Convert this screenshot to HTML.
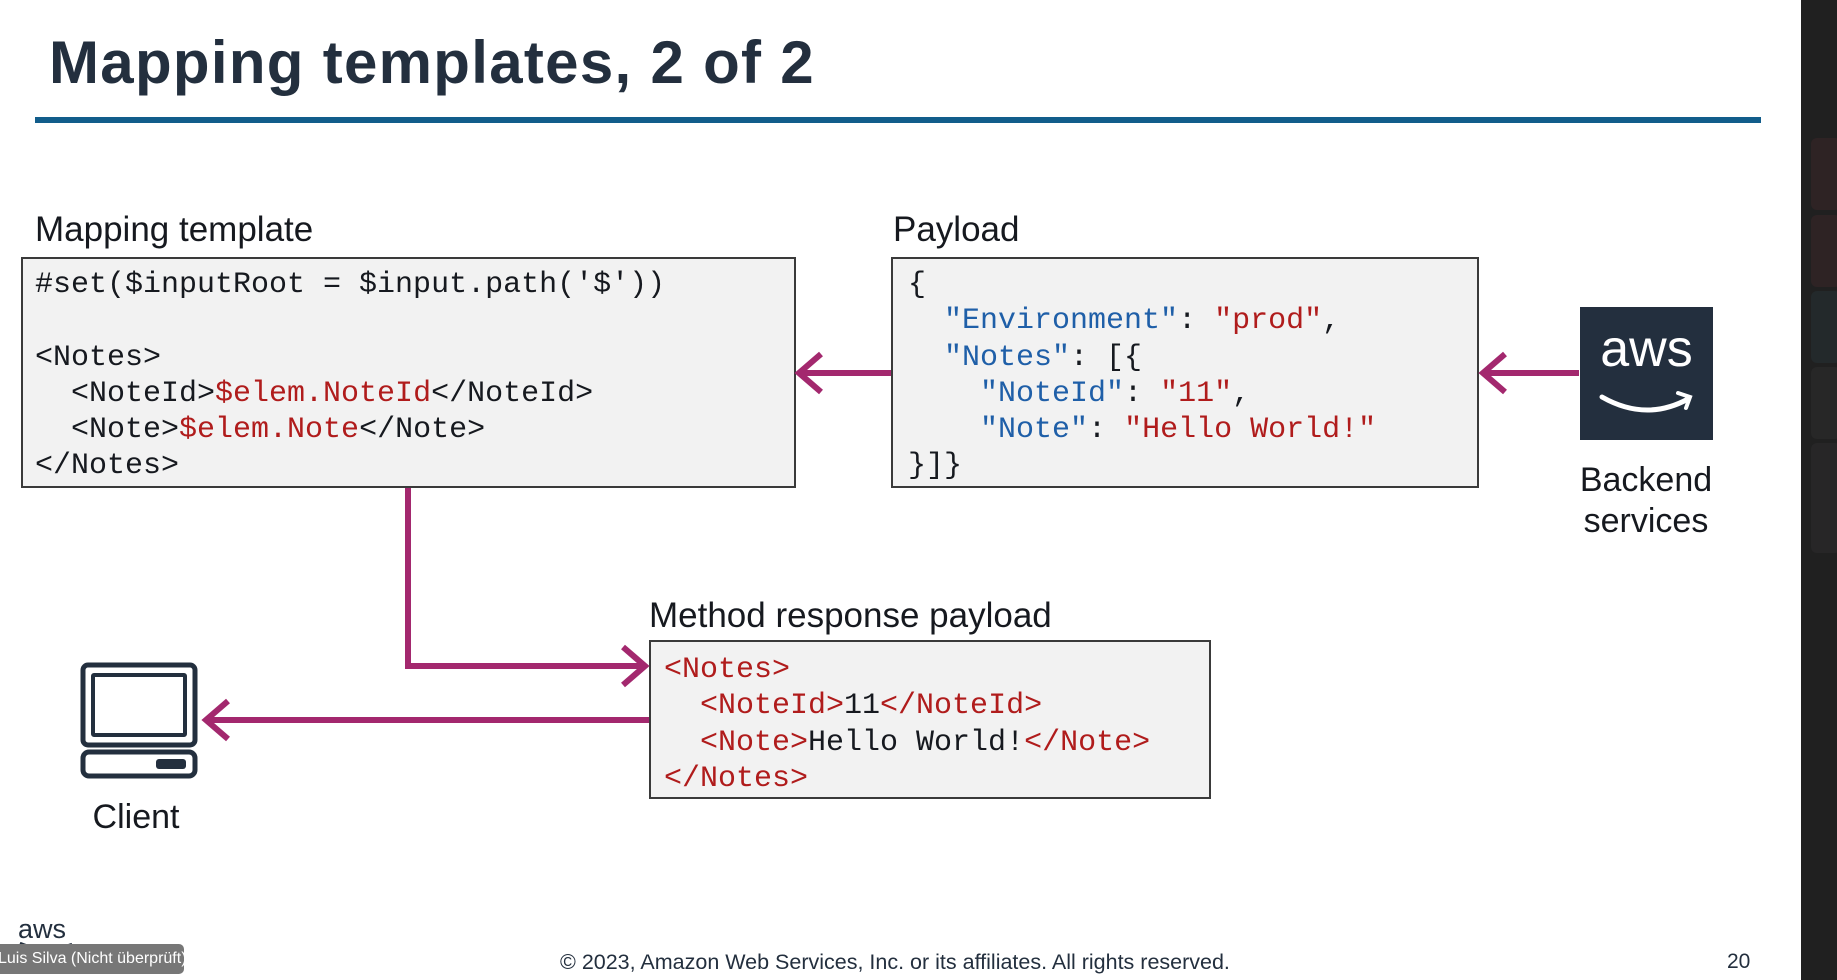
<!DOCTYPE html>
<html><head><meta charset="utf-8"><style>
body{margin:0;width:1837px;height:980px;background:#fff;position:relative;overflow:hidden;font-family:"Liberation Sans",sans-serif;color:#16191f}
.a{position:absolute}
.lbl{font-size:35px;white-space:nowrap;line-height:1}
.box{position:absolute;background:#f2f2f2;border:2px solid #3a3a3a;box-sizing:border-box}
.code{position:absolute;font-family:"Liberation Mono",monospace;font-size:30px;line-height:36.3px;white-space:pre;color:#16191f}
.b{color:#1f5fa8}.r{color:#b01c1c}
</style></head><body>
<div class="a" style="left:49px;top:28px;font-size:60px;font-weight:bold;color:#232f3e;white-space:nowrap;letter-spacing:1.3px">Mapping templates, 2 of 2</div>
<div class="a" style="left:35px;top:117px;width:1726px;height:6px;background:#125d8b"></div>

<div class="a lbl" style="left:35px;top:212px">Mapping template</div>
<div class="box" style="left:21px;top:257px;width:775px;height:231px"></div>
<div class="code" style="left:35px;top:267px">#set($inputRoot = $input.path('$'))

&lt;Notes&gt;
  &lt;NoteId&gt;<span class="r">$elem.NoteId</span>&lt;/NoteId&gt;
  &lt;Note&gt;<span class="r">$elem.Note</span>&lt;/Note&gt;
&lt;/Notes&gt;</div>

<div class="a lbl" style="left:893px;top:212px">Payload</div>
<div class="box" style="left:891px;top:257px;width:588px;height:231px"></div>
<div class="code" style="left:908px;top:267px">{
  <span class="b">"Environment"</span>: <span class="r">"prod"</span>,
  <span class="b">"Notes"</span>: [{
    <span class="b">"NoteId"</span>: <span class="r">"11"</span>,
    <span class="b">"Note"</span>: <span class="r">"Hello World!"</span>
}]}</div>

<div class="a" style="left:1580px;top:307px;width:133px;height:133px;background:#232f3e"></div>
<div class="a" style="left:1580px;top:323px;width:133px;text-align:center;color:#fff;font-size:52px;line-height:1">aws</div>
<svg class="a" style="left:1580px;top:307px" width="133" height="133"><path d="M22 90 Q66 115 108 92" stroke="#fff" stroke-width="5" fill="none" stroke-linecap="round"/><path d="M98 86 L110 90 L106 101" stroke="#fff" stroke-width="4" fill="none" stroke-linecap="round"/></svg>
<div class="a" style="left:1550px;top:460px;width:192px;text-align:center;font-size:34px;line-height:41px">Backend<br>services</div>

<div class="a lbl" style="left:649px;top:598px">Method response payload</div>
<div class="box" style="left:649px;top:640px;width:562px;height:159px"></div>
<div class="code r" style="left:664px;top:652px">&lt;Notes&gt;
  &lt;NoteId&gt;<span style="color:#16191f">11</span>&lt;/NoteId&gt;
  &lt;Note&gt;<span style="color:#16191f">Hello World!</span>&lt;/Note&gt;
&lt;/Notes&gt;</div>

<svg class="a" style="left:0;top:0" width="1837" height="980">
<g stroke="#a3286e" stroke-width="6" fill="none">
<path d="M1579 373 L1483 373"/><path d="M1505 354 L1483 373 L1505 392"/>
<path d="M891 373 L799 373"/><path d="M821 354 L799 373 L821 392"/>
<path d="M408 488 L408 666 L645 666"/><path d="M623 647 L645 666 L623 685"/>
<path d="M649 720 L206 720"/><path d="M228 701 L206 720 L228 739"/>
</g>
<g stroke="#232f3e" stroke-width="5" fill="none">
<rect x="83" y="665" width="112" height="80" rx="5"/>
<rect x="93" y="675" width="92" height="60" rx="1" stroke-width="4"/>
<rect x="83" y="752" width="112" height="24" rx="6"/>
</g>
<rect x="156" y="759" width="30" height="10" rx="3" fill="#232f3e"/>
</svg>
<div class="a" style="left:66px;top:798px;width:140px;text-align:center;font-size:34px">Client</div>

<div class="a" style="left:18px;top:916px;font-size:27px;color:#232f3e;line-height:1">aws</div>
<svg class="a" style="left:18px;top:940px" width="60" height="14"><path d="M2 3 Q28 14 54 4" stroke="#232f3e" stroke-width="2.5" fill="none"/></svg>
<div class="a" style="left:0;top:944px;width:184px;height:30px;background:#777;border-radius:0 5px 5px 0;color:#fff;font-size:16px;line-height:30px;white-space:nowrap;overflow:hidden;text-indent:-2px">Luis Silva (Nicht überprüft)</div>
<div class="a" style="left:560px;top:950px;font-size:21.5px;white-space:nowrap;color:#232f3e">© 2023, Amazon Web Services, Inc. or its affiliates. All rights reserved.</div>
<div class="a" style="left:1727px;top:950px;font-size:21px;color:#232f3e">20</div>

<div class="a" style="left:1801px;top:0;width:36px;height:980px;background:#202020"></div>
<div class="a" style="left:1811px;top:138px;width:30px;height:72px;background:#2e2324;border-radius:6px"></div>
<div class="a" style="left:1811px;top:215px;width:30px;height:72px;background:#2e2324;border-radius:6px"></div>
<div class="a" style="left:1811px;top:291px;width:30px;height:72px;background:#23292b;border-radius:6px"></div>
<div class="a" style="left:1811px;top:367px;width:30px;height:72px;background:#272727;border-radius:6px"></div>
<div class="a" style="left:1811px;top:443px;width:30px;height:110px;background:#272627;border-radius:6px"></div>
</body></html>
